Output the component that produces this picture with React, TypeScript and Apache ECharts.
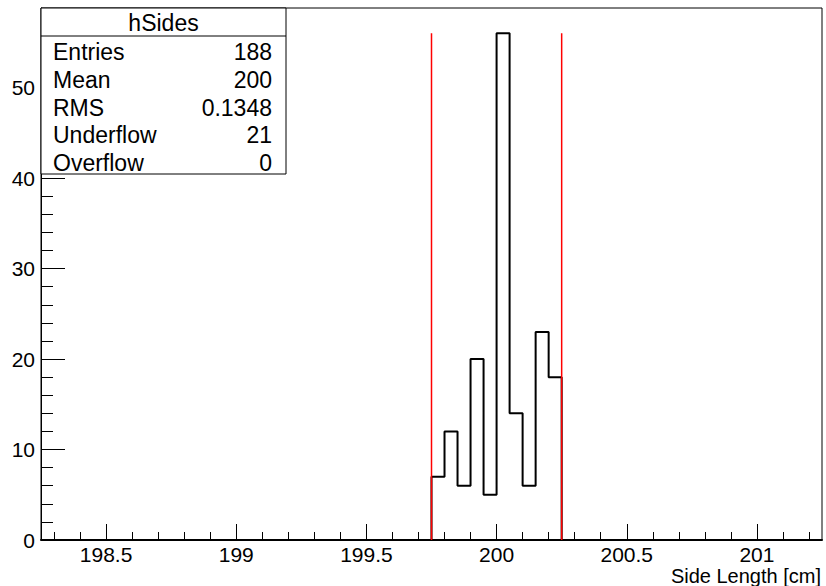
import React, { useEffect, useRef } from "react";
import * as echarts from "echarts";

const xMin = 198.25;
const xMax = 201.25;
const yMin = 0;
const yMax = 58.8;

const xMajorTicks = [198.5, 199, 199.5, 200, 200.5, 201];
const xMinorTicks = [
  198.3, 198.4, 198.5, 198.6, 198.7, 198.8, 198.9, 199.0, 199.1, 199.2,
  199.3, 199.4, 199.5, 199.6, 199.7, 199.8, 199.9, 200.0, 200.1, 200.2,
  200.3, 200.4, 200.5, 200.6, 200.7, 200.8, 200.9, 201.0, 201.1, 201.2,
];
const yMajorTicks = [0, 10, 20, 30, 40, 50];
const yMinorTicks = [
  2, 4, 6, 8, 12, 14, 16, 18, 22, 24, 26, 28, 32, 34, 36, 38, 42, 44, 46, 48,
  52, 54, 56, 58,
];

const binEdges = [
  199.75, 199.8, 199.85, 199.9, 199.95, 200.0, 200.05, 200.1, 200.15, 200.2,
  200.25,
];
const binCounts = [7, 12, 6, 20, 5, 56, 14, 6, 23, 18];

const cutLines = [199.75, 200.25];
const cutTop = 56;

const statsTitle = "hSides";
const statLabels = ["Entries", "Mean", "RMS", "Underflow", "Overflow"];
const statValues = ["188", "200", "0.1348", "21", "0"];

const xTitle = "Side Length [cm]";

const FONT = "'Liberation Sans', Arial, Helvetica, sans-serif";
const RED = "#ff0000";

export default function App() {
  const ref = useRef<HTMLDivElement>(null);

  useEffect(() => {
    if (!ref.current) return;
    const chart = echarts.init(ref.current, undefined, { renderer: "svg" });

    const outline: number[][] = [[binEdges[0], 0]];
    binCounts.forEach((c, i) => {
      outline.push([binEdges[i], c]);
      outline.push([binEdges[i + 1], c]);
    });
    outline.push([binEdges[binEdges.length - 1], 0]);

    const statsLeft = 41;
    const statsTop = 8;
    const statsW = 245;
    const statsH = 166;
    const rowY = [52, 80, 108, 135, 163];

    const graphics: any[] = [
      {
        type: "rect",
        z: 100,
        shape: { x: statsLeft, y: statsTop, width: statsW, height: statsH },
        style: { fill: "#fff", stroke: "#000", lineWidth: 1 },
      },
      {
        type: "line",
        z: 101,
        shape: { x1: statsLeft, y1: 36, x2: statsLeft + statsW, y2: 36 },
        style: { stroke: "#000", lineWidth: 1 },
      },
      {
        type: "text",
        z: 101,
        x: statsLeft + statsW / 2,
        y: 23,
        style: {
          text: statsTitle,
          font: `23px ${FONT}`,
          fill: "#000",
          align: "center",
          verticalAlign: "middle",
        },
      },
      {
        type: "text",
        z: 101,
        x: 821,
        y: 576,
        style: {
          text: xTitle,
          font: `20px ${FONT}`,
          fill: "#000",
          align: "right",
          verticalAlign: "middle",
        },
      },
    ];
    statLabels.forEach((lab, i) => {
      graphics.push({
        type: "text",
        z: 101,
        x: 53,
        y: rowY[i],
        style: {
          text: lab,
          font: `23px ${FONT}`,
          fill: "#000",
          align: "left",
          verticalAlign: "middle",
        },
      });
      graphics.push({
        type: "text",
        z: 101,
        x: 272,
        y: rowY[i],
        style: {
          text: statValues[i],
          font: `23px ${FONT}`,
          fill: "#000",
          align: "right",
          verticalAlign: "middle",
        },
      });
    });

    chart.setOption({
      animation: false,
      backgroundColor: "#fff",
      textStyle: { fontFamily: FONT },
      grid: {
        left: 41,
        right: 4,
        top: 8,
        bottom: 46,
        show: true,
        borderColor: "#000",
        borderWidth: 1,
        backgroundColor: "transparent",
      },
      xAxis: [
        {
          type: "value",
          min: xMin,
          max: xMax,
          position: "bottom",
          axisLine: { show: true, onZero: false, lineStyle: { color: "#000", width: 2 } },
          axisTick: {
            show: true,
            inside: true,
            length: 16,
            customValues: xMajorTicks,
            lineStyle: { color: "#000", width: 1 },
          },
          axisLabel: {
            show: true,
            customValues: xMajorTicks,
            color: "#000",
            fontSize: 21,
            fontFamily: FONT,
            margin: 4,
            formatter: (v: number) => String(v),
          },
          splitLine: { show: false },
        },
        {
          type: "value",
          min: xMin,
          max: xMax,
          position: "bottom",
          axisLine: { show: false, onZero: false },
          axisTick: {
            show: true,
            inside: true,
            length: 8,
            customValues: xMinorTicks,
            lineStyle: { color: "#000", width: 1 },
          },
          axisLabel: { show: false },
          splitLine: { show: false },
        },
      ],
      yAxis: [
        {
          type: "value",
          min: yMin,
          max: yMax,
          position: "left",
          axisLine: { show: true, onZero: false, lineStyle: { color: "#000", width: 1 } },
          axisTick: {
            show: true,
            inside: true,
            length: 24,
            customValues: yMajorTicks,
            lineStyle: { color: "#000", width: 1 },
          },
          axisLabel: {
            show: true,
            customValues: yMajorTicks,
            color: "#000",
            fontSize: 21,
            fontFamily: FONT,
            margin: 6,
          },
          splitLine: { show: false },
        },
        {
          type: "value",
          min: yMin,
          max: yMax,
          position: "left",
          offset: 0,
          axisLine: { show: false, onZero: false },
          axisTick: {
            show: true,
            inside: true,
            length: 12,
            customValues: yMinorTicks,
            lineStyle: { color: "#000", width: 1 },
          },
          axisLabel: { show: false },
          splitLine: { show: false },
        },
      ],
      series: [
        {
          type: "line",
          xAxisIndex: 0,
          yAxisIndex: 0,
          data: outline,
          showSymbol: false,
          symbol: "none",
          color: "#000",
          lineStyle: { color: "#000", width: 2 },
          z: 5,
        },
        ...cutLines.map((x) => ({
          type: "line",
          xAxisIndex: 0,
          yAxisIndex: 0,
          data: [
            [x, 0],
            [x, cutTop],
          ],
          showSymbol: false,
          symbol: "none",
          color: RED,
          itemStyle: { color: RED },
          lineStyle: { color: RED, width: 1.5 },
          z: 6,
        })),
      ],
      graphic: graphics,
    });

    return () => chart.dispose();
  }, []);

  return (
    <div
      ref={ref}
      style={{ position: "fixed", left: 0, top: 0, width: 826, height: 586 }}
    />
  );
}
